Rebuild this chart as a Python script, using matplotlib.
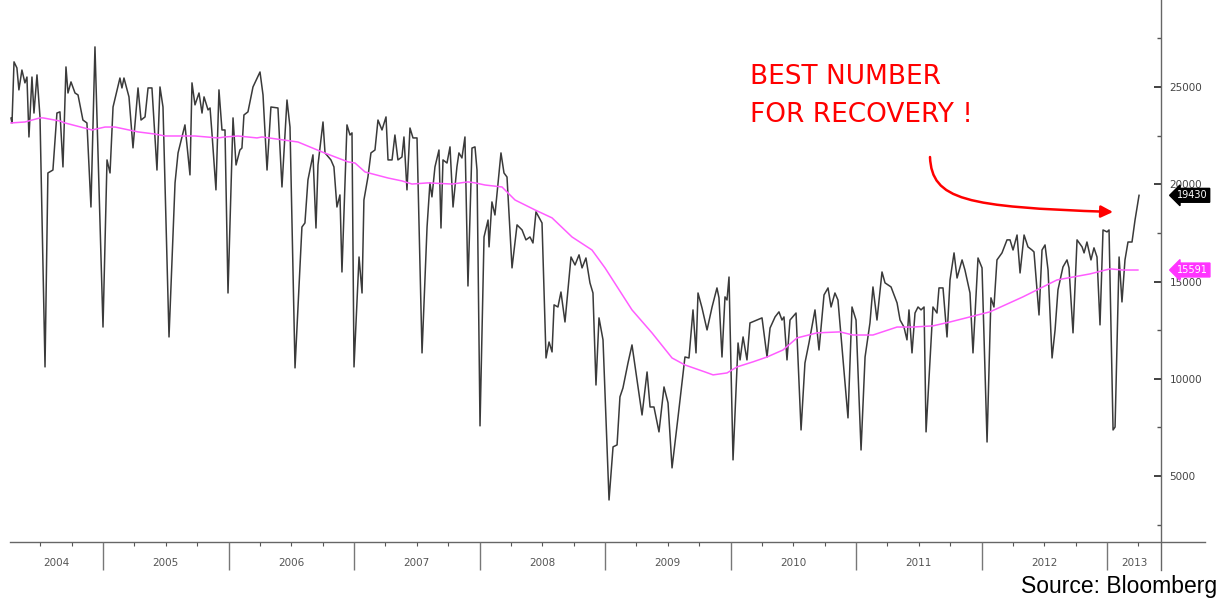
import matplotlib
matplotlib.use("Agg")
import matplotlib.pyplot as plt
import matplotlib.transforms as mtransforms
from matplotlib.patches import FancyArrowPatch
from matplotlib.path import Path
from matplotlib.ticker import MultipleLocator

# weekly series (decimal year, value)
dates = [
    2004.267, 2004.275, 2004.291, 2004.314, 2004.330, 2004.354, 2004.378, 2004.394, 2004.410, 2004.434,
    2004.450, 2004.474, 2004.498, 2004.538, 2004.561, 2004.601, 2004.633, 2004.657, 2004.681, 2004.705,
    2004.721, 2004.745, 2004.777, 2004.801, 2004.840, 2004.872, 2004.904, 2004.936, 2005.000, 2005.032,
    2005.056, 2005.080, 2005.135, 2005.151, 2005.167, 2005.207, 2005.239, 2005.279, 2005.303, 2005.335,
    2005.359, 2005.390, 2005.430, 2005.454, 2005.478, 2005.526, 2005.574, 2005.598, 2005.653, 2005.693,
    2005.709, 2005.733, 2005.765, 2005.789, 2005.805, 2005.837, 2005.853, 2005.868, 2005.900, 2005.924,
    2005.948, 2005.972, 2005.996, 2006.012, 2006.036, 2006.060, 2006.091, 2006.107, 2006.123, 2006.155,
    2006.195, 2006.251, 2006.275, 2006.307, 2006.338, 2006.394, 2006.426, 2006.466, 2006.490, 2006.530,
    2006.585, 2006.609, 2006.633, 2006.673, 2006.697, 2006.713, 2006.753, 2006.769, 2006.816, 2006.840,
    2006.864, 2006.888, 2006.904, 2006.944, 2006.968, 2006.984, 2007.000, 2007.040, 2007.064, 2007.079,
    2007.111, 2007.135, 2007.167, 2007.191, 2007.223, 2007.255, 2007.271, 2007.303, 2007.326, 2007.350,
    2007.382, 2007.398, 2007.422, 2007.446, 2007.470, 2007.502, 2007.542, 2007.582, 2007.605, 2007.621,
    2007.645, 2007.677, 2007.693, 2007.709, 2007.741, 2007.765, 2007.789, 2007.820, 2007.836, 2007.860,
    2007.884, 2007.908, 2007.940, 2007.964, 2007.980, 2008.004, 2008.036, 2008.068, 2008.076, 2008.099,
    2008.123, 2008.171, 2008.195, 2008.219, 2008.259, 2008.299, 2008.339, 2008.370, 2008.402, 2008.426,
    2008.450, 2008.498, 2008.530, 2008.554, 2008.578, 2008.594, 2008.625, 2008.649, 2008.681, 2008.729,
    2008.761, 2008.793, 2008.817, 2008.848, 2008.880, 2008.904, 2008.928, 2008.952, 2008.984, 2009.032,
    2009.064, 2009.096, 2009.119, 2009.143, 2009.183, 2009.215, 2009.295, 2009.335, 2009.359, 2009.390,
    2009.430, 2009.470, 2009.502, 2009.534, 2009.582, 2009.637, 2009.669, 2009.701, 2009.725, 2009.741,
    2009.773, 2009.813, 2009.853, 2009.892, 2009.908, 2009.932, 2009.956, 2009.972, 2009.988, 2010.020,
    2010.060, 2010.076, 2010.100, 2010.131, 2010.155, 2010.251, 2010.291, 2010.315, 2010.355, 2010.386,
    2010.410, 2010.426, 2010.450, 2010.474, 2010.522, 2010.562, 2010.593, 2010.625, 2010.673, 2010.705,
    2010.745, 2010.777, 2010.801, 2010.832, 2010.856, 2010.936, 2010.968, 2011.000, 2011.040, 2011.072,
    2011.111, 2011.135, 2011.167, 2011.207, 2011.231, 2011.279, 2011.327, 2011.351, 2011.382, 2011.406,
    2011.422, 2011.446, 2011.470, 2011.494, 2011.518, 2011.542, 2011.558, 2011.581, 2011.613, 2011.645,
    2011.661, 2011.693, 2011.725, 2011.749, 2011.781, 2011.805, 2011.845, 2011.868, 2011.908, 2011.932,
    2011.972, 2012.004, 2012.044, 2012.075, 2012.099, 2012.123, 2012.163, 2012.203, 2012.227, 2012.251,
    2012.283, 2012.307, 2012.339, 2012.370, 2012.402, 2012.418, 2012.458, 2012.482, 2012.506, 2012.530,
    2012.562, 2012.586, 2012.609, 2012.649, 2012.681, 2012.697, 2012.729, 2012.761, 2012.801, 2012.817,
    2012.840, 2012.872, 2012.896, 2012.920, 2012.944, 2012.968, 2013.000, 2013.016, 2013.048, 2013.064,
    2013.096, 2013.119, 2013.143, 2013.167, 2013.199, 2013.223, 2013.255,
]
values = [
    23400, 23150, 26290, 25980, 24850, 25870, 25210, 25510, 22430, 25510,
    23660, 25620, 23460, 10610, 20580, 20730, 23660, 23720, 20890, 26030,
    24690, 25260, 24690, 24590, 23300, 23150, 18830, 27060, 12660, 21250,
    20580, 23970, 25460, 24950, 25460, 24490, 21870, 24950, 23300, 23460,
    24950, 24950, 20730, 25000, 23970, 12150, 20070, 21610, 23050, 20480,
    25210, 24080, 24690, 23660, 24490, 23820, 23920, 22640, 19710, 24850,
    22790, 22790, 14410, 18010, 23410, 20990, 21760, 21860, 23560, 23720,
    25000, 25770, 24590, 20730, 23970, 23920, 19860, 24330, 22940, 10560,
    17800, 18010, 20220, 21510, 17750, 20990, 23200, 21610, 21250, 20890,
    18830, 19450, 15490, 23050, 22530, 22640, 10610, 16260, 14410, 19190,
    20370, 21610, 21760, 23300, 22790, 23460, 21250, 21250, 22530, 21250,
    21400, 22430, 19710, 22890, 22380, 22380, 11330, 17800, 20070, 19350,
    20890, 21760, 17750, 21250, 21090, 21920, 18830, 20890, 21610, 21350,
    22430, 14770, 21860, 21920, 20730, 7580, 17290, 18160, 16780, 19090,
    18420, 21610, 20580, 20370, 15700, 17910, 17650, 17140, 17290, 16980,
    18580, 18010, 11070, 11890, 11380, 13800, 13690, 14460, 12920, 16260,
    15850, 16370, 15700, 16210, 14930, 14410, 9680, 13130, 12000, 3770,
    6500, 6600, 9070, 9530, 10810, 11740, 8140, 10350, 8550, 8550,
    7270, 9580, 8760, 5420, 8040, 11120, 11070, 13540, 11330, 14410,
    13640, 12510, 13690, 14670, 14160, 11120, 14210, 14050, 15230, 5830,
    11840, 10970, 12150, 10970, 12870, 13130, 11120, 12610, 13180, 13440,
    13020, 13180, 10970, 13020, 13380, 7370, 10810, 11840, 13540, 11480,
    14310, 14670, 13690, 14410, 14050, 7990, 13690, 13020, 6340, 11120,
    12870, 14720, 13020, 15490, 14930, 14720, 13900, 13020, 12660, 12000,
    13540, 11330, 13380, 13690, 13540, 13690, 7270, 9940, 13690, 13380,
    14670, 14670, 12150, 15080, 16470, 15180, 16110, 15590, 14410, 11330,
    16210, 15700, 6750, 14160, 13690, 16110, 16470, 17140, 17140, 16620,
    17390, 15440, 17390, 16780, 16620, 16520, 13280, 16620, 16880, 15590,
    11070, 12510, 14570, 15750, 16110, 15700, 12360, 17140, 16780, 16470,
    17030, 16110, 16730, 16260, 12770, 17650, 17550, 17650, 7370, 7520,
    16260, 13950, 16110, 17030, 17030, 18160, 19430,
]

# moving average (pink)
ma_dates = [
    2004.267, 2004.378, 2004.498, 2004.522, 2004.657, 2004.697, 2004.912, 2005.016, 2005.096, 2005.279,
    2005.414, 2005.494, 2005.733, 2005.916, 2005.972, 2006.075, 2006.227, 2006.267, 2006.554, 2006.745,
    2006.952, 2007.008, 2007.088, 2007.271, 2007.382, 2007.462, 2007.589, 2007.781, 2007.908, 2007.964,
    2008.044, 2008.179, 2008.283, 2008.442, 2008.578, 2008.737, 2008.896, 2009.000, 2009.215, 2009.374,
    2009.534, 2009.637, 2009.797, 2009.861, 2009.972, 2010.052, 2010.179, 2010.291, 2010.418, 2010.530,
    2010.689, 2010.872, 2010.976, 2011.135, 2011.327, 2011.454, 2011.613, 2011.749, 2012.067, 2012.330,
    2012.601, 2012.864, 2013.024, 2013.127, 2013.246,
]
ma_values = [
    23150, 23200, 23410, 23410, 23250, 23150, 22790, 22940, 22940, 22690,
    22580, 22480, 22480, 22380, 22430, 22480, 22380, 22430, 22170, 21660,
    21150, 21090, 20630, 20320, 20170, 20010, 20070, 20010, 20120, 20070,
    19960, 19860, 19190, 18680, 18270, 17290, 16620, 15700, 13540, 12360,
    11070, 10710, 10350, 10200, 10300, 10610, 10870, 11120, 11480, 12100,
    12360, 12410, 12250, 12250, 12660, 12660, 12720, 12920, 13440, 14210,
    15080, 15390, 15650, 15590, 15591,
]

years = list(range(2004, 2014))
y_ticks = [5000, 10000, 15000, 20000, 25000]
last_value = 19430
last_ma = 15591

fig = plt.figure(figsize=(12.21, 6.01), dpi=100)
ax = fig.add_axes([10 / 1221, 1 - 542 / 601, 1151 / 1221, 542 / 601])

ax.plot(dates, values, color="#3a3a3a", lw=1.1)
ax.plot(ma_dates, ma_values, color="#ff5cff", lw=1.1)

x0, x1 = 2004.259, 2013.43
ax.set_xlim(x0, x1)
ax.set_ylim(1610, 29470)
for s in ax.spines.values():
    s.set_visible(False)

# right hand value axis
ax.yaxis.tick_right()
ax.set_yticks(y_ticks)
ax.set_yticklabels([str(v) for v in y_ticks])
ax.yaxis.set_minor_locator(MultipleLocator(2500))
ax.tick_params(axis="y", which="major", direction="in", length=5, width=1.3,
               color="#333333", labelsize=7.5, labelcolor="#444444", pad=6)
ax.tick_params(axis="y", which="minor", direction="in", length=3, width=1, color="#555555")

# quarter ticks on the time axis
quarters = [y + q for y in years for q in (0.25, 0.5, 0.75) if x0 < y + q < x1]
ax.set_xticks(quarters)
ax.set_xticklabels([])
ax.tick_params(axis="x", which="major", direction="out", length=3, width=0.8, color="#555555")

ax.plot([0, 1.038], [0, 0], transform=ax.transAxes, clip_on=False, color="#666666", lw=1)
ax.plot([1, 1], [-0.052, 1], transform=ax.transAxes, clip_on=False, color="#666666", lw=1)

xt = ax.get_xaxis_transform()
bounds = [y for y in years if x0 < y < x1]
ax.vlines(bounds, -0.052, 0, transform=xt, clip_on=False, color="#777777", lw=1)
for y in years:
    a, b = max(y, x0), min(y + 1, x1)
    if b > a:
        ax.text((a + b) / 2, -0.038, str(y), transform=xt, ha="center", va="center",
                fontsize=7.5, color="#555555")

# last value tags
yt = mtransforms.blended_transform_factory(ax.transAxes, ax.transData)
ax.text(1.014, last_value, str(last_value), transform=yt, ha="left", va="center",
        fontsize=7, color="white",
        bbox=dict(boxstyle="larrow,pad=0.2", fc="black", ec="black"))
ax.text(1.014, last_ma, str(last_ma), transform=yt, ha="left", va="center",
        fontsize=7, color="white",
        bbox=dict(boxstyle="larrow,pad=0.2", fc="#ff33ff", ec="#ff33ff"))

# annotation
ax.text(0.643, 0.882, "BEST NUMBER\nFOR RECOVERY !", transform=ax.transAxes,
        ha="left", va="top", fontsize=19, color="red", linespacing=1.6)
curve = Path([(0.7993, 0.7103), (0.8010, 0.6310), (0.8297, 0.6181), (0.9583, 0.6089)],
             [Path.MOVETO, Path.CURVE4, Path.CURVE4, Path.CURVE4])
ax.add_patch(FancyArrowPatch(path=curve, transform=ax.transAxes, arrowstyle="-|>",
                             mutation_scale=18, color="red", lw=1.8, clip_on=False))

fig.text(0.9967, 0.013, "Source: Bloomberg", ha="right", va="baseline",
         fontsize=16.5, family="Liberation Sans", color="black")

fig.savefig("out.png", dpi=100)
